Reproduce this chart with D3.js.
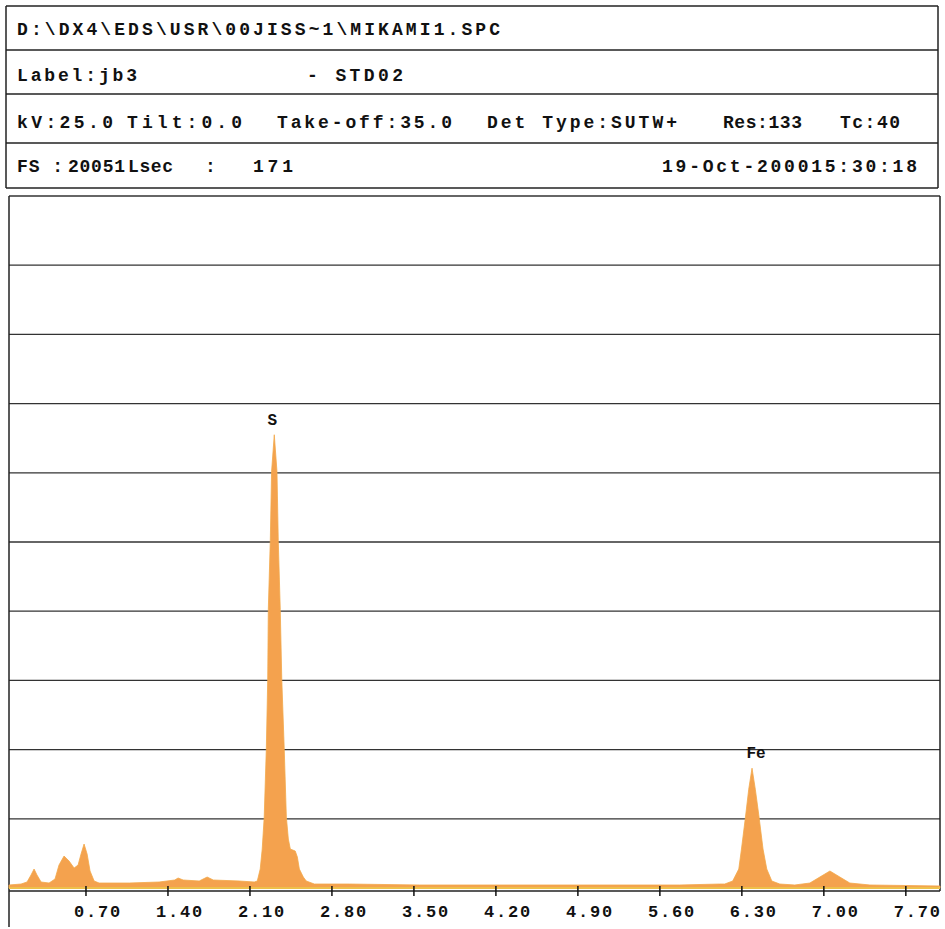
<!DOCTYPE html>
<html>
<head>
<meta charset="utf-8">
<script src="https://cdn.jsdelivr.net/npm/d3@7"></script>
<style>
  body { margin: 0; background: #fff; }
  svg text { font-family: "Liberation Mono", "Courier New", monospace; font-weight: bold; fill: #111; }
</style>
</head>
<body>
<div id="chart"></div>
<script>
// Data
const headerRows = [
    ["D:\\DX4\\EDS\\USR\\00JISS~1\\MIKAMI1.SPC"],
    ["Label:jb3", "- STD02"],
    ["kV:25.0", "Tilt:0.0", "Take-off:35.0", "Det Type:SUTW+", "Res:133", "Tc:40"],
    ["FS :", "20051", "Lsec", ":", "171", "19-Oct-200015:30:18"]
];

// spectrum: energy (keV) and counts
const energy = [
    0.047, 0.150, 0.201, 0.235, 0.261, 0.286, 0.321, 0.389, 0.440, 0.474,
    0.517, 0.560, 0.603, 0.637, 0.662, 0.688, 0.714, 0.739, 0.774, 0.816,
    1.073, 1.329, 1.462, 1.491, 1.534, 1.671, 1.739, 1.791, 2.013, 2.141,
    2.167, 2.192, 2.209, 2.226, 2.244, 2.256, 2.261, 2.278, 2.289, 2.312,
    2.335, 2.346, 2.363, 2.376, 2.397, 2.415, 2.432, 2.449, 2.491, 2.509,
    2.526, 2.560, 2.585, 2.654, 2.953, 3.551, 4.235, 5.090, 5.774, 6.115,
    6.158, 6.226, 6.278, 6.301, 6.335, 6.363, 6.391, 6.419, 6.451, 6.485,
    6.517, 6.560, 6.628, 6.756, 6.885, 6.970, 7.056, 7.141, 7.226, 7.397,
    7.996
];
const counts = [
    87, 115, 173, 375, 548, 375, 173, 144, 260, 664,
    924, 779, 577, 664, 981, 1270, 981, 491, 202, 144,
    144, 173, 231, 289, 231, 202, 317, 231, 202, 173,
    202, 548, 1126, 2049, 4012, 6032, 8052, 10043, 12035, 13100,
    12035, 10043, 8052, 6032, 4012, 2049, 1414, 1126, 1068, 895,
    548, 317, 202, 115, 115, 87, 87, 87, 87, 115,
    115, 202, 548, 1126, 2049, 2857, 3463, 2857, 2049, 1126,
    548, 202, 115, 87, 144, 317, 491, 317, 144, 87,
    58
];

const peakLabels = ["S", "Fe"];
const peakEnergy = [2.312, 6.391];
const peakCounts = [13100, 3463];

const xTicks = [0.70, 1.40, 2.10, 2.80, 3.50, 4.20, 4.90, 5.60, 6.30, 7.00, 7.70];
const gridCounts = [2000, 4000, 6000, 8000, 10000, 12000, 14000, 16000, 18000, 20000];

// Layout
const W = 945, H = 929;
const plot = { left: 9, right: 940, top: 196, bottom: 888 };
const headerLinesY = [6, 50, 94, 143, 188];
const headerLeft = 6, headerRight = 938;
const headerBaseY = [35, 81, 128, 172];
// [start x, width] of each header text
const headerPos = [
    [[17, 483]],
    [[17, 120], [307, 96]],
    [[17, 96], [127, 115], [277, 175], [487, 190], [723, 79], [840, 60]],
    [[17, 46], [68, 57], [128, 45], [205, 6], [253, 40], [662, 255]]
];

const svg = d3.select("#chart").append("svg")
    .attr("width", W)
    .attr("height", H);

// header box
const hdr = svg.append("g");
hdr.selectAll("line.h")
    .data(headerLinesY)
    .enter().append("line")
    .attr("x1", headerLeft).attr("x2", headerRight)
    .attr("y1", d => d).attr("y2", d => d)
    .attr("stroke", "#222").attr("stroke-width", 1.5);
[headerLeft, headerRight].forEach(x => {
    hdr.append("line")
        .attr("x1", x).attr("x2", x)
        .attr("y1", headerLinesY[0]).attr("y2", headerLinesY[headerLinesY.length - 1])
        .attr("stroke", "#222").attr("stroke-width", 1.5);
});
headerRows.forEach((row, r) => {
    row.forEach((txt, i) => {
        const t = hdr.append("text")
            .attr("x", headerPos[r][i][0])
            .attr("y", headerBaseY[r])
            .attr("font-size", 18)
            .attr("xml:space", "preserve")
            .text(txt);
        if (txt.length > 1) {
            t.attr("textLength", headerPos[r][i][1]).attr("lengthAdjust", "spacing");
        }
    });
});

// scales
const x = d3.scaleLinear().domain([0.047, 7.996]).range([plot.left, plot.right]);
const y = d3.scaleLinear().domain([0, 20000]).range([plot.bottom, plot.top]);

// grid
svg.append("g").selectAll("line")
    .data(gridCounts)
    .enter().append("line")
    .attr("x1", plot.left).attr("x2", plot.right)
    .attr("y1", d => y(d)).attr("y2", d => y(d))
    .attr("stroke", "#333").attr("stroke-width", 1.3);

// frame sides
svg.append("line")
    .attr("x1", plot.left).attr("x2", plot.left)
    .attr("y1", plot.top).attr("y2", 927)
    .attr("stroke", "#222").attr("stroke-width", 1.5);
svg.append("line")
    .attr("x1", plot.right).attr("x2", plot.right)
    .attr("y1", plot.top).attr("y2", plot.bottom + 3)
    .attr("stroke", "#222").attr("stroke-width", 1.5);

// spectrum
const spectrum = energy.map((e, i) => ({ e: e, c: counts[i] }));
const area = d3.area()
    .x(d => x(d.e))
    .y0(y(0))
    .y1(d => y(d.c))
    .curve(d3.curveLinear);

svg.append("path")
    .datum(spectrum)
    .attr("d", area)
    .attr("fill", "#f4a24e")
    .attr("stroke", "#f2a84a")
    .attr("stroke-width", 0.8);

// yellow baseline under the fill
svg.append("line")
    .attr("x1", plot.left).attr("x2", plot.right)
    .attr("y1", y(0)).attr("y2", y(0))
    .attr("stroke", "#eec04a").attr("stroke-width", 2);

// x axis
const xAxis = d3.axisBottom(x)
    .tickValues(xTicks)
    .tickFormat(d3.format(".2f"))
    .tickSize(5);

const ax = svg.append("g")
    .attr("transform", `translate(0,${plot.bottom + 3})`)
    .call(xAxis);
ax.select(".domain")
    .attr("d", `M${plot.left},0H${plot.right}`)
    .attr("stroke", "#222").attr("stroke-width", 1.5);
ax.selectAll(".tick line")
    .attr("y1", -5).attr("y2", 5)
    .attr("stroke", "#111").attr("stroke-width", 1.5);
ax.selectAll(".tick text")
    .attr("dx", 12)
    .attr("y", 14)
    .attr("dy", "0.71em")
    .attr("font-size", 17)
    .attr("letter-spacing", 1.8)
    .style("font-family", "\"Liberation Mono\", monospace")
    .style("font-weight", "bold")
    .attr("fill", "#111");

// peak labels
svg.append("g").selectAll("text")
    .data(peakLabels)
    .enter().append("text")
    .attr("x", (d, i) => x(peakEnergy[i]) - 2 + (i === 1 ? 6 : 0))
    .attr("y", (d, i) => y(peakCounts[i]) - 10)
    .attr("text-anchor", "middle")
    .attr("font-size", 16)
    .text(d => d);
</script>
</body>
</html>
